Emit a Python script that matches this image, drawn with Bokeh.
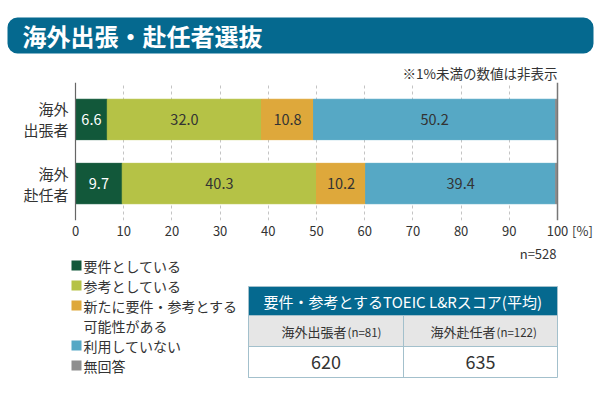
from bokeh.plotting import figure
from bokeh.layouts import column
from bokeh.models import FactorRange, Range1d, Label, BoxAnnotation, Span, ColumnDataSource, FixedTicker
from bokeh.embed import file_html
from bokeh.resources import INLINE
from bokeh.core.properties import value

# ---------------- data ----------------
categories = ["海外\n出張者", "海外\n赴任者"]
series_names = ["要件としている", "参考としている", "新たに要件・参考とする\n可能性がある", "利用していない", "無回答"]
series_keys = ["requirement", "reference", "possible", "not_used", "no_answer"]
series_colors = ["#12583a", "#b5c246", "#dea83b", "#56a8c5", "#8e8e8e"]
requirement = [6.6, 9.7]
reference = [32.0, 40.3]
possible = [10.8, 10.2]
not_used = [50.2, 39.4]
no_answer = [0.4, 0.4]
x_ticks = [0, 10, 20, 30, 40, 50, 60, 70, 80, 90, 100]
unit_label = "[%]"
sample_n = 528
score_groups = ["海外出張者", "海外赴任者"]
score_n = [81, 122]
score_avg = [620, 635]

title_text = "海外出張・赴任者選抜"
note_text = "※1%未満の数値は非表示"
table_title = "要件・参考とするTOEIC L&Rスコア(平均)"

FONT = "Noto Sans CJK JP"
BLUE = "#05698f"
TXT = "#333333"
W = 600
H_A, H_B = 82, 160
H_C = 400 - H_A - H_B


def blank(height, y0, y1):
    f = figure(width=W, height=height, output_backend="svg", toolbar_location=None,
               x_range=Range1d(0, W), y_range=Range1d(y1, y0), min_border=0,
               x_axis_location=None, y_axis_location=None)
    f.outline_line_color = None
    f.grid.visible = False
    f.background_fill_color = "white"
    f.border_fill_color = "white"
    return f


def lab(f, x, y, text, size="13px", color=TXT, align="left", bold=False):
    f.add_layout(Label(x=x, y=y, text=text, text_font=FONT, text_font_size=size,
                       text_color=color, text_align=align, text_baseline="middle",
                       text_font_style="bold" if bold else "normal"))


def box(f, l, r, t, b, fill, line=None, radius=0):
    f.add_layout(BoxAnnotation(left=l, right=r, top=t, bottom=b,
                               fill_color=fill, fill_alpha=1 if fill else 0,
                               line_color=line, line_alpha=1 if line else 0,
                               line_width=1, border_radius=radius))


# ---------------- header (title banner + note) ----------------
A = blank(H_A, 0, H_A)
box(A, 7, 593, 17, 53, BLUE, radius=10)
lab(A, 22, 35, title_text, size="24px", color="white", bold=True)
lab(A, 557, 72, note_text, size="13.5px", align="right")

# ---------------- bar chart ----------------
PX_LEFT, PX_100 = 75, 557
px_per_unit = (PX_100 - PX_LEFT) / 100
x_start = -PX_LEFT / px_per_unit
x_end = (W - PX_LEFT) / px_per_unit
unit_tick = 100 + 25 / px_per_unit

B = figure(width=W, height=H_B, output_backend="svg", toolbar_location=None,
           x_range=Range1d(x_start, x_end),
           y_range=FactorRange(factors=list(reversed(categories)), range_padding=0.077),
           min_border_left=0, min_border_right=0, min_border_top=0, min_border_bottom=20,
           y_axis_location=None)
B.outline_line_color = None
B.background_fill_color = "white"
B.border_fill_color = "white"

B.xgrid.ticker = FixedTicker(ticks=x_ticks[1:-1])
B.xgrid.grid_line_color = "#c4c4c4"
B.xgrid.grid_line_dash = "3 3"
B.ygrid.visible = False

src = ColumnDataSource(dict(cat=categories, requirement=requirement, reference=reference,
                            possible=possible, not_used=not_used, no_answer=no_answer))
B.hbar_stack(series_keys, y="cat", height=0.63, color=series_colors, source=src)

lx, ly, lt, lc = [], [], [], []
for i, c in enumerate(categories):
    left = 0.0
    for k in series_keys:
        v = src.data[k][i]
        if v >= 1:
            lx.append(left + v / 2)
            ly.append(c)
            lt.append(f"{v:.1f}")
            lc.append("white" if k == "requirement" else TXT)
        left += v
B.text(x=lx, y=ly, text=lt, text_color=lc, text_align="center", text_baseline="middle",
       text_font=value(FONT), text_font_size="14.5px")

# category labels (left of the 0 line)
B.text(x=[0] * len(categories), y=categories, text=categories, x_offset=-7,
       text_color=TXT, text_align="right", text_baseline="middle", text_line_height=1.0,
       text_font=value(FONT), text_font_size="15px")

B.xaxis.ticker = FixedTicker(ticks=x_ticks + [unit_tick])
B.xaxis.major_label_overrides = {unit_tick: unit_label}
B.xaxis.axis_line_color = None
B.xaxis.major_tick_line_color = None
B.xaxis.minor_tick_line_color = None
B.xaxis.major_tick_out = 0
B.xaxis.major_label_standoff = 0
B.xaxis.major_label_text_font = FONT
B.xaxis.major_label_text_font_size = "13px"
B.xaxis.major_label_text_color = TXT

B.add_layout(Span(location=0, dimension="height", line_color="#666666", line_width=1.2))
B.add_layout(Span(location=100, dimension="height", line_color="#777777", line_width=1.5))

# ---------------- legend + table ----------------
C = blank(H_C, H_A + H_B, 400)
lab(C, 556, 253, f"n={sample_n}", size="13px", align="right")

row_y0, step = 265, 20
row = 0
for name, col in zip(series_names, series_colors):
    cy = row_y0 + row * step
    box(C, 71, 81, cy - 5, cy + 5, col)
    lines = name.split("\n")
    for j, line in enumerate(lines):
        lab(C, 83, row_y0 + (row + j) * step, line, size="14px")
    row += len(lines)

TL, TR, TD = 248, 557, 403
T0, T1, T2, T3 = 286, 315, 346, 377
BORDER = "#a3c0cc"
box(C, TL, TR, T0, T1, BLUE)
box(C, TL, TR, T1, T2, "#e6e6e6")
box(C, TL, TR, T0, T3, None, line=BORDER)
box(C, TL, TD, T1, T3, None, line=BORDER)
box(C, TL, TR, T1, T2, None, line=BORDER)
lab(C, (TL + TR) / 2, (T0 + T1) / 2, table_title, size="15px", color="white", align="center")
col_centers = [(TL + TD) / 2, (TD + TR) / 2]
name_ends = [346, 495]
for g, n, cx, ne in zip(score_groups, score_n, col_centers, name_ends):
    lab(C, ne, (T1 + T2) / 2, g, size="13px", align="right")
    lab(C, ne + 1, (T1 + T2) / 2 + 1, f"(n={n})", size="11.5px", align="left")
C.text(x=col_centers, y=[(T2 + T3) / 2] * len(score_avg), text=[str(s) for s in score_avg],
       text_color=TXT, text_align="center", text_baseline="middle",
       text_font=value(FONT), text_font_size="18px")

layout = column(A, B, C, spacing=0)
open("out.html", "w").write(file_html(layout, INLINE))
